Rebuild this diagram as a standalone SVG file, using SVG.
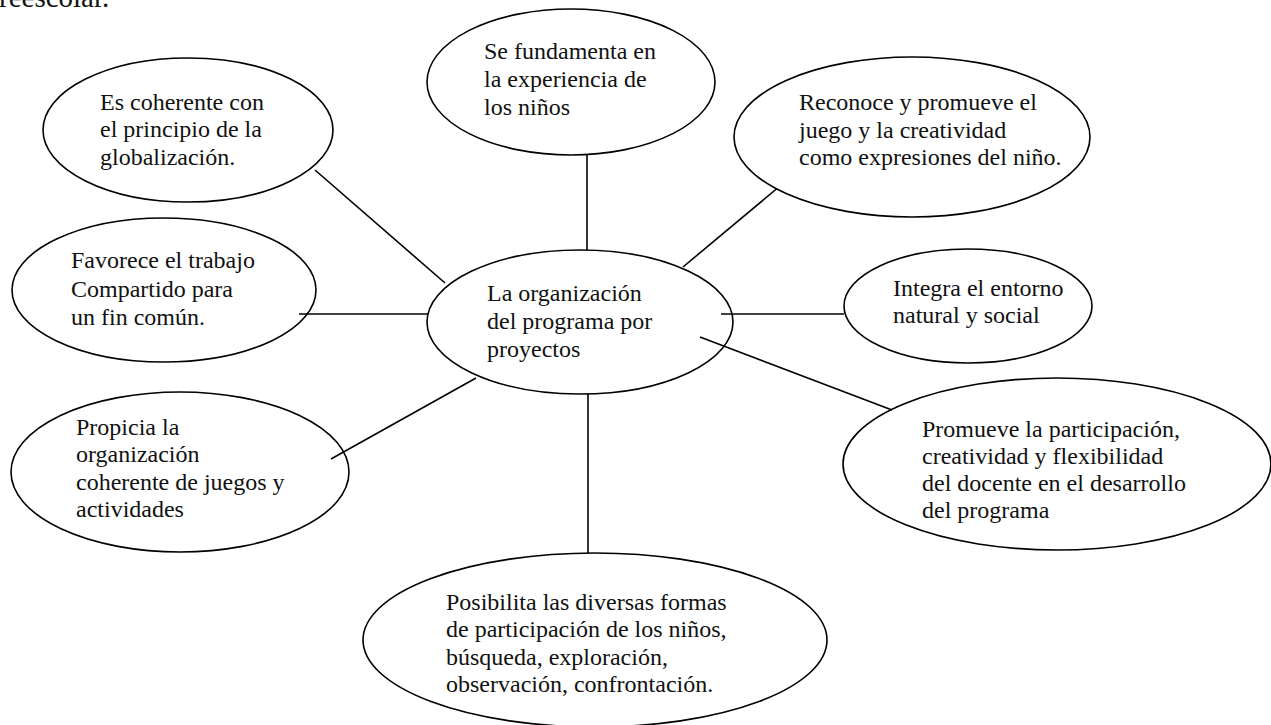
<svg xmlns="http://www.w3.org/2000/svg" width="1271" height="725" viewBox="0 0 1271 725">
<style>
.n{fill:#fff;stroke:#000;stroke-width:1.6}
.c line{stroke:#000;stroke-width:1.6}
text{font-family:"Liberation Serif","Times New Roman",serif;font-size:24px;fill:#111}
</style>
<rect width="1271" height="725" fill="#fff"/>
<text x="-1" y="7" style="font-size:29px">reescolar.</text>
<g class="c" id="connectors">
<line x1="315" y1="170" x2="445" y2="283"/>
<line x1="587" y1="155" x2="587" y2="250"/>
<line x1="780" y1="186" x2="683" y2="267"/>
<line x1="299" y1="314" x2="428" y2="314"/>
<line x1="721" y1="314" x2="844" y2="314"/>
<line x1="476" y1="378" x2="331" y2="459"/>
<line x1="588" y1="394" x2="588" y2="553"/>
<line x1="700" y1="337" x2="892" y2="410"/>
</g>
<g id="n-center"><ellipse class="n" cx="580" cy="322" rx="153" ry="72" style="fill:none"/>
<text x="487" y="301">La organización</text><text x="487" y="329">del programa por</text><text x="487" y="357">proyectos</text></g>
<g id="n-coherente"><ellipse class="n" cx="188" cy="130" rx="145" ry="72"/>
<text x="100" y="110">Es coherente con</text><text x="100" y="137">el principio de la</text><text x="100" y="165">globalización.</text></g>
<g id="n-fundamenta"><ellipse class="n" cx="571" cy="82" rx="144" ry="73"/>
<text x="484" y="59">Se fundamenta en</text><text x="484" y="87">la experiencia de</text><text x="484" y="115">los niños</text></g>
<g id="n-reconoce"><ellipse class="n" cx="912" cy="137" rx="178" ry="80"/>
<text x="799" y="110">Reconoce y promueve el</text><text x="799" y="138">juego y la creatividad</text><text x="799" y="165">como expresiones del niño.</text></g>
<g id="n-integra"><ellipse class="n" cx="968" cy="306" rx="124" ry="57"/>
<text x="893" y="296">Integra el entorno</text><text x="893" y="323">natural y social</text></g>
<g id="n-favorece"><ellipse class="n" cx="164" cy="290" rx="152" ry="72" style="fill:none"/>
<text x="71" y="268">Favorece el trabajo</text><text x="71" y="297">Compartido para</text><text x="71" y="325">un fin común.</text></g>
<g id="n-propicia"><ellipse class="n" cx="180" cy="472" rx="169" ry="80" style="fill:none"/>
<text x="76" y="435">Propicia la</text><text x="76" y="462">organización</text><text x="76" y="490">coherente de juegos y</text><text x="76" y="517">actividades</text></g>
<g id="n-posibilita"><ellipse class="n" cx="595" cy="640" rx="232" ry="87"/>
<text x="446" y="610">Posibilita las diversas formas</text><text x="446" y="637">de participación de los niños,</text><text x="446" y="665">búsqueda, exploración,</text><text x="446" y="692">observación, confrontación.</text></g>
<g id="n-promueve"><ellipse class="n" cx="1057" cy="464" rx="214" ry="86" style="fill:none"/>
<text x="922" y="437">Promueve la participación,</text><text x="922" y="464">creatividad y flexibilidad</text><text x="922" y="491">del docente en el desarrollo</text><text x="922" y="518">del programa</text></g>
</svg>
